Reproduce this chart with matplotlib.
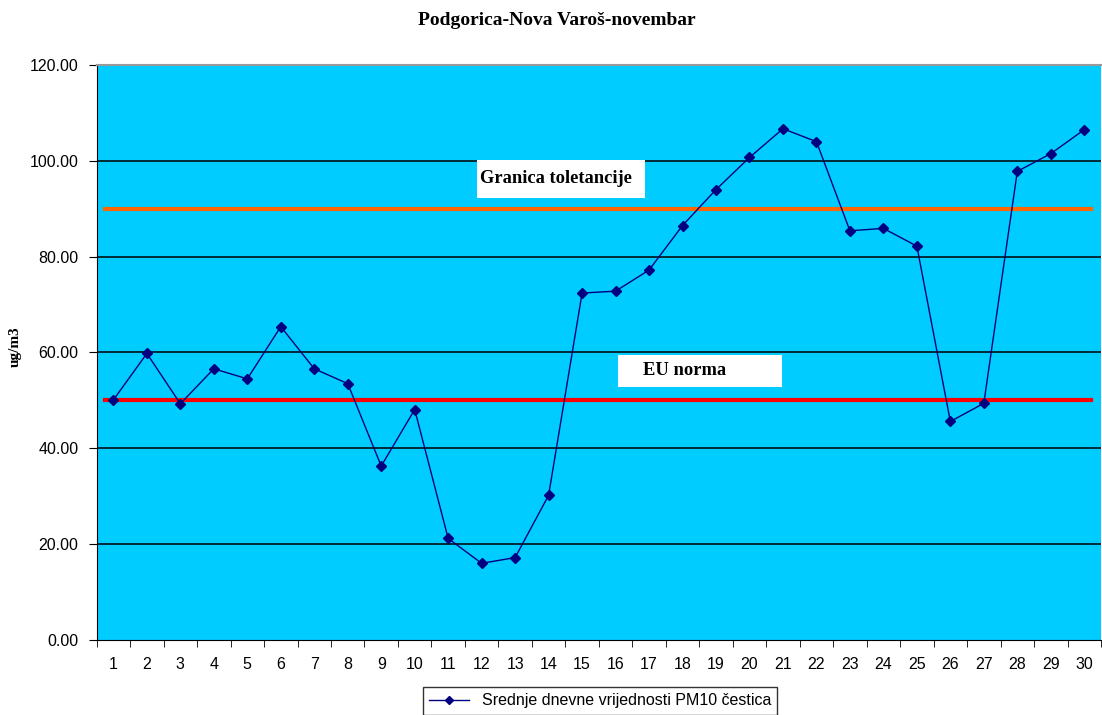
import matplotlib.pyplot as plt
from matplotlib.lines import Line2D

days = list(range(1, 31))
pm10 = [50.1, 59.8, 49.3, 56.6, 54.5, 65.4, 56.6, 53.5, 36.3, 48.1,
        21.2, 16.0, 17.2, 30.2, 72.4, 72.8, 77.2, 86.5, 94.0, 100.7,
        106.7, 104.0, 85.4, 85.9, 82.2, 45.6, 49.4, 97.8, 101.5, 106.5]
eu_norma = 50
granica = 90
yticks = [0, 20, 40, 60, 80, 100, 120]

fig = plt.figure(figsize=(11.02, 7.15), dpi=100)
ax = fig.add_axes([0.0877, 0.1049, 0.9114, 0.8042])
ax.set_facecolor('#00CCFF')

for y in yticks[1:-1]:
    ax.axhline(y, color='black', lw=1.1, zorder=1)

ax.plot([0.75, 30.2], [granica, granica], color='#FF6600', lw=3, zorder=2)
ax.plot([0.75, 30.2], [eu_norma, eu_norma], color='#FF0000', lw=3, zorder=2)

ax.plot(days, pm10, color='#000080', lw=1, marker='D', markersize=5,
        markerfacecolor='#000080', markeredgecolor='#000080', zorder=3)

ax.set_xlim(0.5, 30.5)
ax.set_ylim(0, 120)
ax.set_yticks(yticks)
ax.set_yticklabels(['%.2f' % v for v in yticks])
ax.set_xticks(days)
ax.set_xticks([d + 0.5 for d in range(0, 31)], minor=True)
ax.tick_params(axis='x', which='major', length=0, pad=12)
ax.tick_params(axis='x', which='minor', length=5, direction='out', color='black')
ax.tick_params(axis='y', length=6, direction='out', color='black', pad=7)
for lab in ax.get_xticklabels() + ax.get_yticklabels():
    lab.set_fontfamily('Liberation Sans')
    lab.set_fontsize(11.5)

ax.spines['left'].set_color('black')
ax.spines['bottom'].set_color('black')
ax.spines['top'].set_color('#999999')
ax.spines['top'].set_linewidth(1.5)
ax.spines['right'].set_visible(False)

ax.set_ylabel('ug/m3', fontfamily='Liberation Serif', fontweight='bold',
              fontsize=11, labelpad=14)
ax.yaxis.set_label_coords(-0.074, 0.51)

fig.text(0.505, 0.972, 'Podgorica-Nova Varoš-novembar', ha='center', va='center',
         fontfamily='Liberation Serif', fontweight='bold', fontsize=14)

# white label boxes (axes fraction)
def label_box(x0, y0, x1, y1, tx, text):
    l, r = (x0 - 96.7) / 1004.3, (x1 - 96.7) / 1004.3
    b, t = (640 - y1) / 575, (640 - y0) / 575
    ax.add_patch(plt.Rectangle((l, b), r - l, t - b, transform=ax.transAxes,
                               facecolor='white', edgecolor='none', zorder=4))
    ax.text((tx - 96.7) / 1004.3, (b + t) / 2, text, transform=ax.transAxes,
            fontfamily='Liberation Serif', fontweight='bold', fontsize=13.3,
            ha='left', va='center', zorder=5)

label_box(477, 160, 645, 198, 480, 'Granica toletancije')
label_box(618, 355, 782, 387, 643, 'EU norma')

handle = Line2D([], [], color='#000080', lw=1, marker='D', markersize=4)
leg = fig.legend([handle], ['Srednje dnevne vrijednosti PM10 čestica'],
                 loc='upper center', bbox_to_anchor=(600 / 1102, 1 - 687 / 715),
                 borderaxespad=0, frameon=True, fancybox=False, edgecolor='black',
                 prop={'family': 'Liberation Sans', 'size': 11.5},
                 handlelength=2.5, borderpad=0.4)
leg.get_frame().set_linewidth(1)

fig.savefig('out.png', dpi=100)
